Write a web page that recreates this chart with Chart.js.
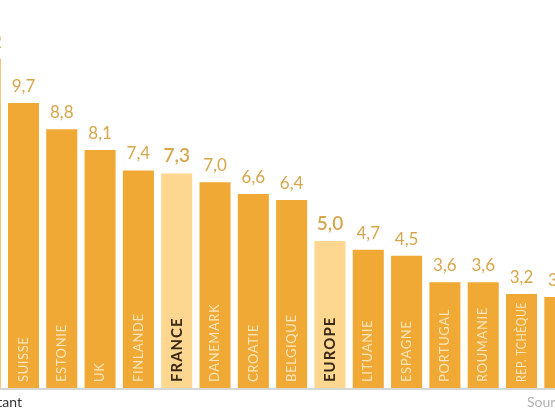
<!DOCTYPE html>
<html>
<head>
<title>Taux par pays</title>
<script src="https://cdn.jsdelivr.net/npm/chart.js"></script>
<style>
  body { margin: 0; width: 555px; height: 419px; overflow: hidden; position: relative; background: #fff; font-family: Lato, sans-serif; }
  #wrap { position: absolute; left: -34px; top: 0; width: 613px; height: 419px; }
  .note { position: absolute; top: 393px; font-size: 14px; white-space: nowrap; }
  #unit { right: 533px; color: #333; }
  #source { left: 527px; color: #b3b3b3; }
</style>
</head>
<body>
<div id="wrap"><canvas id="chart" width="613" height="419"></canvas></div>
<div class="note" id="unit">par habitant</div>
<div class="note" id="source">Source</div>
<script>
// the reference is a crop: first and last bars are only partly visible
const countries = ['', 'SUISSE', 'ESTONIE', 'UK', 'FINLANDE', 'FRANCE', 'DANEMARK', 'CROATIE', 'BELGIQUE', 'EUROPE', 'LITUANIE', 'ESPAGNE', 'PORTUGAL', 'ROUMANIE', 'REP. TCHÈQUE', ''];
const values = [11.2, 9.7, 8.8, 8.1, 7.4, 7.3, 7.0, 6.6, 6.4, 5.0, 4.7, 4.5, 3.6, 3.6, 3.2, 3.1];
const highlighted = ['FRANCE', 'EUROPE'];

const barColor = '#efa934';
const lightColor = '#fdd68f';

const labelsPlugin = {
  id: 'labels',
  afterDatasetsDraw(chart) {
    const ctx = chart.ctx;
    const y0 = chart.scales.y.getPixelForValue(0);
    ctx.save();
    // baseline
    ctx.strokeStyle = '#c9c9c9';
    ctx.lineWidth = 1.5;
    ctx.beginPath();
    ctx.moveTo(chart.chartArea.left, y0 + 1);
    ctx.lineTo(chart.chartArea.right, y0 + 1);
    ctx.stroke();

    chart.getDatasetMeta(0).data.forEach((bar, i) => {
      const hi = highlighted.includes(countries[i]);
      // value above bar
      ctx.fillStyle = '#d6a64c';
      ctx.font = hi ? '600 19px Lato' : '17px Lato';
      ctx.textAlign = 'center';
      ctx.textBaseline = 'alphabetic';
      ctx.fillText(values[i].toFixed(1).replace('.', ','), bar.x, bar.y - 11);
      // country name inside bar, rotated
      ctx.save();
      ctx.translate(bar.x, y0 - 6);
      ctx.rotate(-Math.PI / 2);
      ctx.textAlign = 'left';
      ctx.textBaseline = 'middle';
      if (hi) {
        ctx.fillStyle = '#3a2816';
        ctx.font = 'bold 15px Lato';
        ctx.letterSpacing = '1px';
      } else {
        ctx.fillStyle = '#fce6bd';
        ctx.font = '13px Lato';
        ctx.letterSpacing = '0.6px';
      }
      ctx.fillText(countries[i], 0, 0, (y0 - bar.y) - 14);
      ctx.restore();
    });
    ctx.restore();
  }
};

new Chart(document.getElementById('chart'), {
  type: 'bar',
  data: {
    labels: countries,
    datasets: [{
      data: values,
      backgroundColor: countries.map(c => highlighted.includes(c) ? lightColor : barColor),
      borderWidth: 0,
      categoryPercentage: 1,
      barPercentage: 0.81
    }]
  },
  options: {
    responsive: false,
    animation: false,
    layout: { padding: { top: 0, bottom: 31, left: 0, right: 0 } },
    plugins: { legend: { display: false }, tooltip: { enabled: false } },
    scales: {
      x: { display: false },
      y: { display: false, min: 0, max: 13.2 }
    }
  },
  plugins: [labelsPlugin]
});
</script>
</body>
</html>
